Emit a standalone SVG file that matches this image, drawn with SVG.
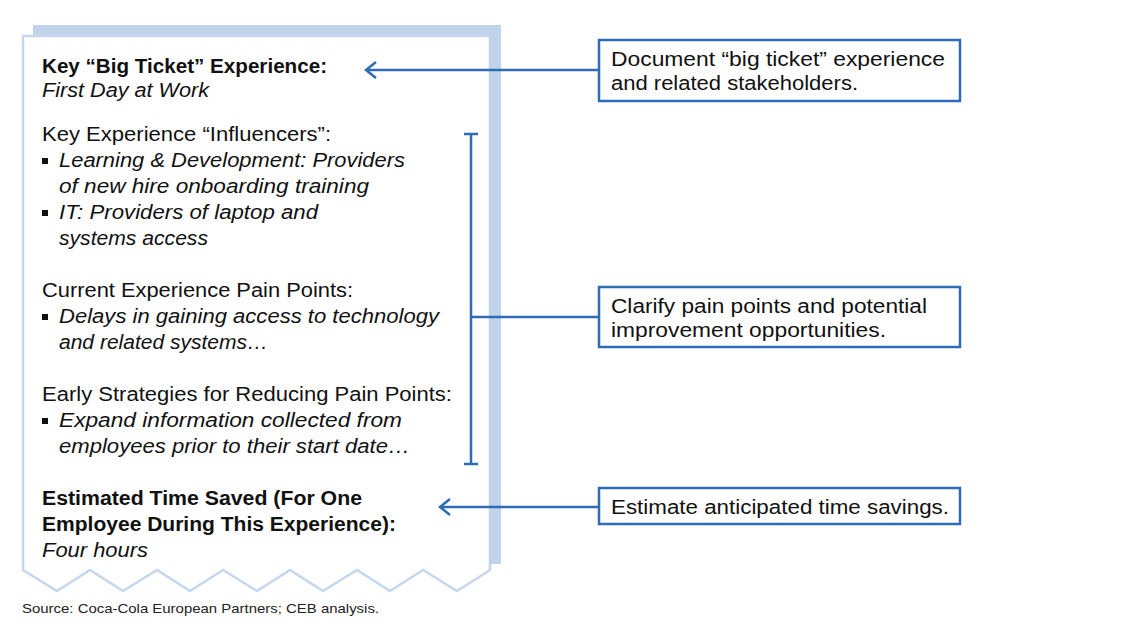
<svg xmlns="http://www.w3.org/2000/svg" width="1121" height="629" viewBox="0 0 1121 629">
<style>
.t{font-family:"Liberation Sans",Arial,sans-serif;font-size:20px;fill:#111}
.b{font-weight:bold}
.i{font-style:italic}
.bx{fill:#fff;stroke:#2e6db5;stroke-width:2.5}
.ln{fill:none;stroke:#2e6db5;stroke-width:2.5}
.ah{fill:none;stroke:#2e6db5;stroke-width:2.5;stroke-linecap:butt;stroke-linejoin:miter}
.bt{font-family:"Liberation Sans",Arial,sans-serif;font-size:19.5px;fill:#111}
.src{font-family:"Liberation Sans",Arial,sans-serif;font-size:13.5px;fill:#222}
.bul{fill:#111}
</style>
<rect width="1121" height="629" fill="#fff"/>
<g id="document">
<rect x="33" y="25" width="468" height="539" fill="#bfd3eb"/>
<path d="M23 36 H490 V570 L457 591 L423 570 L390 591 L357 570 L323 591 L290 570 L257 591 L223 570 L190 591 L157 570 L123 591 L90 570 L57 591 L23 570 Z" fill="#fff" stroke="#c5d7ed" stroke-width="2.5" stroke-linejoin="miter"/>
<rect x="489" y="25" width="12" height="539" fill="#bfd3eb"/>
<path d="M490 564 V570" stroke="#c5d7ed" stroke-width="2.5"/>
<text class="t b" x="42" y="73" textLength="285" lengthAdjust="spacingAndGlyphs">Key “Big Ticket” Experience:</text>
<text class="t i" x="42" y="97" textLength="167" lengthAdjust="spacingAndGlyphs">First Day at Work</text>
<text class="t" x="42" y="141" textLength="289" lengthAdjust="spacingAndGlyphs">Key Experience “Influencers”:</text>
<rect class="bul" x="42" y="158" width="6" height="6"/>
<text class="t i" x="59" y="167" textLength="346" lengthAdjust="spacingAndGlyphs">Learning &amp; Development: Providers</text>
<text class="t i" x="59" y="193" textLength="310" lengthAdjust="spacingAndGlyphs">of new hire onboarding training</text>
<rect class="bul" x="42" y="210" width="6" height="6"/>
<text class="t i" x="59" y="219" textLength="259" lengthAdjust="spacingAndGlyphs">IT: Providers of laptop and</text>
<text class="t i" x="59" y="245" textLength="149" lengthAdjust="spacingAndGlyphs">systems access</text>
<text class="t" x="42" y="297" textLength="311" lengthAdjust="spacingAndGlyphs">Current Experience Pain Points:</text>
<rect class="bul" x="42" y="314" width="6" height="6"/>
<text class="t i" x="59" y="323" textLength="380" lengthAdjust="spacingAndGlyphs">Delays in gaining access to technology</text>
<text class="t i" x="59" y="349" textLength="209" lengthAdjust="spacingAndGlyphs">and related systems…</text>
<text class="t" x="42" y="401" textLength="410" lengthAdjust="spacingAndGlyphs">Early Strategies for Reducing Pain Points:</text>
<rect class="bul" x="42" y="418" width="6" height="6"/>
<text class="t i" x="59" y="427" textLength="343" lengthAdjust="spacingAndGlyphs">Expand information collected from</text>
<text class="t i" x="59" y="453" textLength="351" lengthAdjust="spacingAndGlyphs">employees prior to their start date…</text>
<text class="t b" x="42" y="505" textLength="320" lengthAdjust="spacingAndGlyphs">Estimated Time Saved (For One</text>
<text class="t b" x="42" y="531" textLength="354" lengthAdjust="spacingAndGlyphs">Employee During This Experience):</text>
<text class="t i" x="42" y="557" textLength="106" lengthAdjust="spacingAndGlyphs">Four hours</text>
</g>
<g id="connectors">
<path class="ln" d="M599 70 H367"/>
<path class="ah" d="M376 62 L366 70 L376 78"/>
<path class="ln" d="M471 134 V464 M464 134 H478 M464 464 H478 M471 317 H599"/>
<path class="ln" d="M599 507 H441"/>
<path class="ah" d="M450 499 L440 507 L450 515"/>
</g>
<g id="box1">
<rect class="bx" x="599" y="40" width="361" height="61"/>
<text class="bt" x="611" y="66" textLength="334" lengthAdjust="spacingAndGlyphs">Document “big ticket” experience</text>
<text class="bt" x="611" y="90" textLength="247" lengthAdjust="spacingAndGlyphs">and related stakeholders.</text>
</g>
<g id="box2">
<rect class="bx" x="599" y="287" width="361" height="60"/>
<text class="bt" x="611" y="313" textLength="316" lengthAdjust="spacingAndGlyphs">Clarify pain points and potential</text>
<text class="bt" x="611" y="337" textLength="275" lengthAdjust="spacingAndGlyphs">improvement opportunities.</text>
</g>
<g id="box3">
<rect class="bx" x="599" y="488" width="361" height="36"/>
<text class="bt" x="611" y="514" textLength="338" lengthAdjust="spacingAndGlyphs">Estimate anticipated time savings.</text>
</g>
<text class="src" x="22" y="613" textLength="357" lengthAdjust="spacingAndGlyphs">Source: Coca-Cola European Partners; CEB analysis.</text>
</svg>
